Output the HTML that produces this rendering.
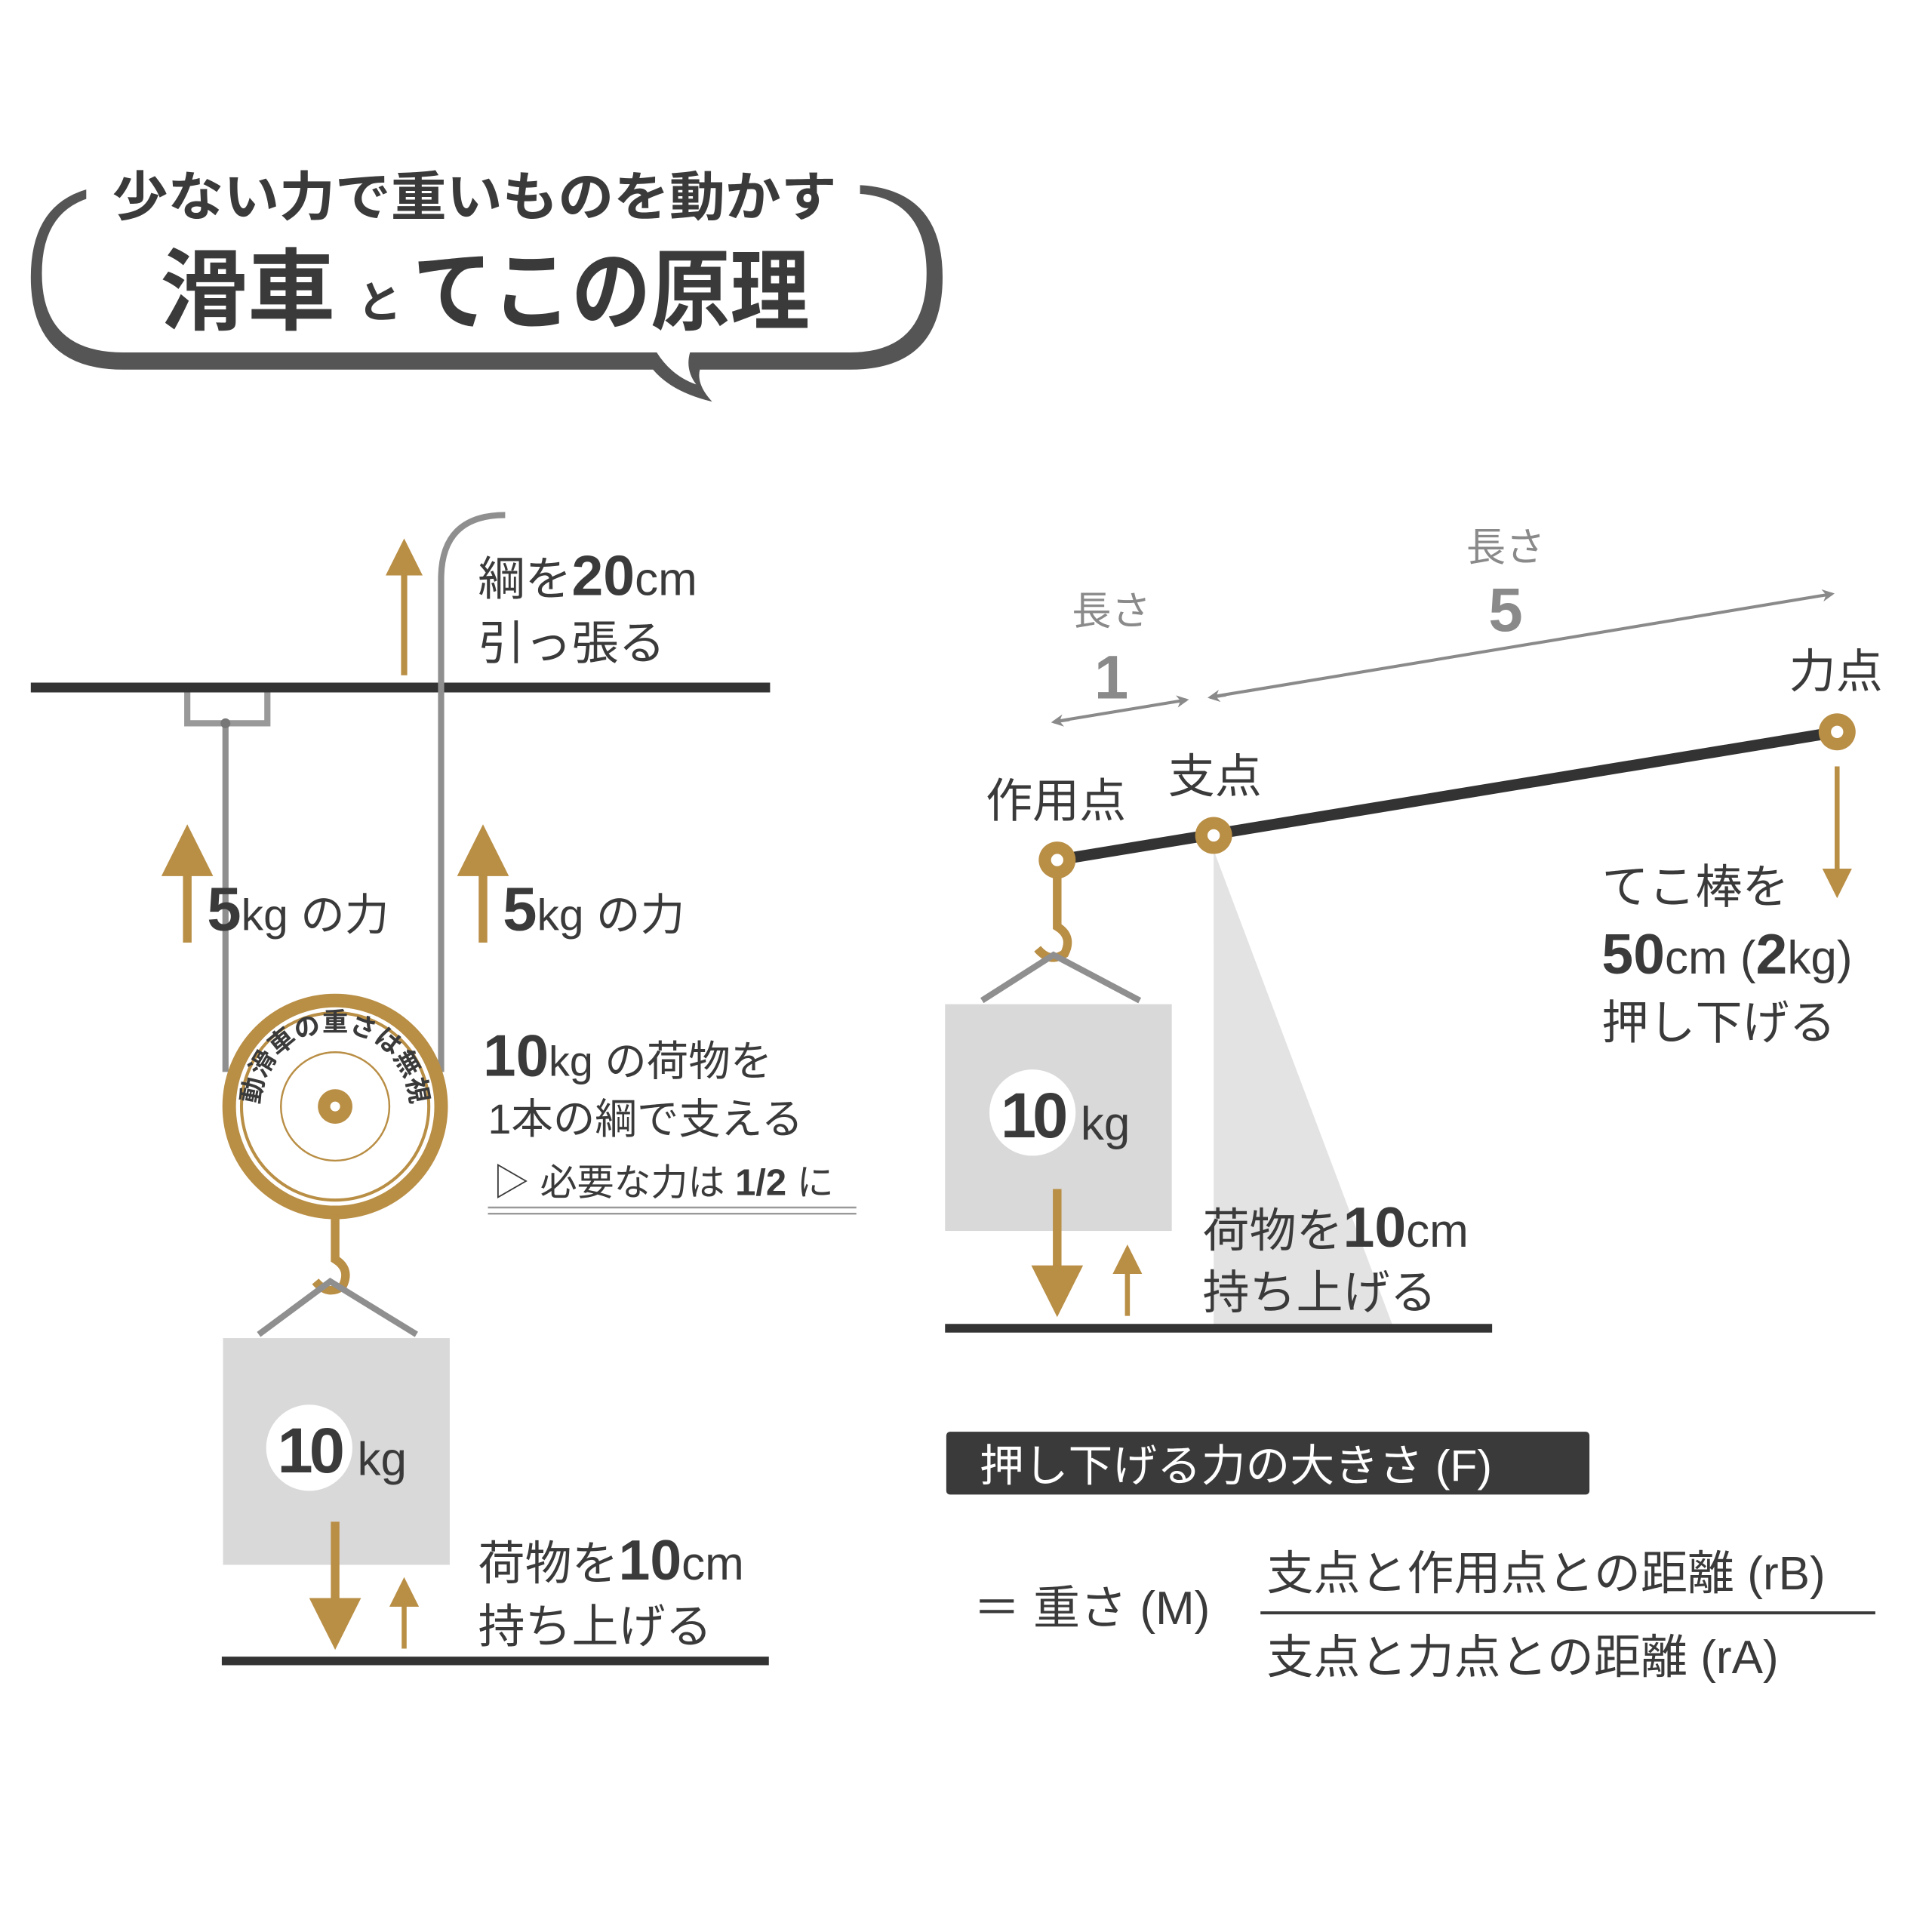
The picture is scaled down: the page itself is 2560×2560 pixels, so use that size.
<!DOCTYPE html>
<html><head><meta charset="utf-8"><style>
html,body{margin:0;padding:0;background:#fff}
svg{display:block}
text{font-family:"Liberation Sans","Noto Sans CJK JP",sans-serif;fill:#3a3a3a}
.b{font-weight:bold}
</style></head><body>
<svg width="2560" height="2560" viewBox="0 0 1568 1568" xmlns="http://www.w3.org/2000/svg">
<defs>
<marker id="ag" markerWidth="6" markerHeight="6" refX="3" refY="3" orient="auto" markerUnits="strokeWidth"><path d="M0,0 L6,3 L0,6 Z" fill="#b98e45"/></marker>
<marker id="ay" markerWidth="10" markerHeight="10" refX="8" refY="5" orient="auto" markerUnits="userSpaceOnUse"><path d="M0,0 L10,5 L0,10 L3,5 Z" fill="#8a8a8a"/></marker>
<path id="arc" d="M216,922 A61,61 0 1 1 328,922"/>
</defs>

<!-- speech bubble -->
<path d="M100,150 Q25,150 25,225 Q25,300 100,300 L530,300 Q545,318 578,326 Q565,312 568,300 L690,300 Q765,300 765,225 Q765,150 690,150 Z" fill="#555"/>
<path d="M100,157 Q34,157 34,222 Q34,286 100,286 L533,286 Q545,305 565,312 Q556,300 560,286 L690,286 Q752,286 752,222 Q752,157 690,157 Z" fill="#fff"/>
<rect x="70" y="125" width="628" height="45" fill="#fff"/>
<text x="385" y="175" class="b" font-size="43" text-anchor="middle" textLength="588" lengthAdjust="spacingAndGlyphs">少ない力で重いものを動かす</text>
<text x="130" y="262" class="b" font-size="72" textLength="142" lengthAdjust="spacingAndGlyphs">滑車</text>
<text x="290" y="258" class="b" font-size="36">と</text>
<text x="335" y="262" class="b" font-size="72" textLength="322" lengthAdjust="spacingAndGlyphs">てこの原理</text>

<!-- pulley -->
<line x1="25" y1="558" x2="625" y2="558" stroke="#333" stroke-width="8"/>
<path d="M152,562 L152,587 L217,587 L217,562" fill="none" stroke="#999" stroke-width="5"/>
<line x1="183" y1="587" x2="183" y2="870" stroke="#8f8f8f" stroke-width="5"/>
<circle cx="183" cy="587" r="4" fill="#777"/>
<path d="M410,418 Q358,418 358,470 L358,870" fill="none" stroke="#8f8f8f" stroke-width="5"/>
<line x1="328" y1="548" x2="328" y2="452" stroke="#b98e45" stroke-width="5" marker-end="url(#ag)"/>
<text x="388" y="483" font-size="38">綱を<tspan class="b" font-size="46">20</tspan>cm</text>
<text x="388" y="535" font-size="38">引っ張る</text>
<line x1="152" y1="765" x2="152" y2="690" stroke="#b98e45" stroke-width="7" marker-end="url(#ag)"/>
<line x1="392" y1="765" x2="392" y2="690" stroke="#b98e45" stroke-width="7" marker-end="url(#ag)"/>
<text x="168" y="755" font-size="36"><tspan class="b" font-size="50">5</tspan>kg の力</text>
<text x="408" y="755" font-size="36"><tspan class="b" font-size="50">5</tspan>kg の力</text>

<circle cx="272" cy="898" r="86" fill="#fff" stroke="#b98e45" stroke-width="11"/>
<circle cx="272" cy="898" r="76" fill="none" stroke="#b98e45" stroke-width="2.5"/>
<circle cx="272" cy="898" r="44" fill="none" stroke="#b98e45" stroke-width="1.5"/>
<circle cx="272" cy="898" r="14" fill="#b98e45"/>
<circle cx="272" cy="898" r="4" fill="#fff"/>
<text font-size="21" class="b"><textPath href="#arc" startOffset="50%" text-anchor="middle">動滑車の重さは無視</textPath></text>
<path d="M272,986 L272,1022 Q285,1030 278,1044 Q266,1052 256,1040" fill="none" stroke="#b98e45" stroke-width="7"/>
<path d="M210,1083 L268,1040 L338,1083" fill="none" stroke="#8f8f8f" stroke-width="5"/>
<rect x="181" y="1086" width="184" height="184" fill="#d9d9d9"/>
<circle cx="251" cy="1175" r="35" fill="#fff"/>
<text x="251" y="1195" class="b" font-size="52" text-anchor="middle" letter-spacing="-3">10</text>
<text x="290" y="1197" font-size="38">kg</text>
<line x1="272" y1="1235" x2="272" y2="1318" stroke="#b98e45" stroke-width="7" marker-end="url(#ag)"/>
<line x1="328" y1="1338" x2="328" y2="1292" stroke="#b98e45" stroke-width="4" marker-end="url(#ag)"/>
<line x1="180" y1="1348" x2="624" y2="1348" stroke="#333" stroke-width="7"/>
<text x="388" y="1282" font-size="38">荷物を<tspan class="b" font-size="46">10</tspan>cm</text>
<text x="388" y="1333" font-size="38">持ち上げる</text>
<text x="392" y="873" font-size="34"><tspan class="b" font-size="48">10</tspan>kg の荷物を</text>
<text x="396" y="920" font-size="34">1本の綱で支える</text>
<text x="400" y="970" font-size="30">▷ 必要な力は <tspan class="b">1/2</tspan> に</text>
<line x1="396" y1="980" x2="695" y2="980" stroke="#999" stroke-width="1.5"/>
<line x1="396" y1="985" x2="695" y2="985" stroke="#999" stroke-width="1.5"/>

<!-- lever -->
<polygon points="985,690 985,1075 1130,1075" fill="#e3e3e3"/>
<line x1="858" y1="698" x2="1491" y2="594" stroke="#333" stroke-width="9"/>
<g fill="#b98e45"><circle cx="858" cy="698" r="15"/><circle cx="985" cy="678" r="15"/><circle cx="1491" cy="594" r="15"/></g>
<g fill="#fff"><circle cx="858" cy="698" r="5"/><circle cx="985" cy="678" r="5"/><circle cx="1491" cy="594" r="5"/></g>
<path d="M858,712 L858,752 Q871,760 864,774 Q852,782 842,770" fill="none" stroke="#b98e45" stroke-width="7"/>
<path d="M797,812 L855,775 L925,812" fill="none" stroke="#8f8f8f" stroke-width="5"/>
<rect x="767" y="815" width="184" height="184" fill="#d9d9d9"/>
<circle cx="838" cy="903" r="35" fill="#fff"/>
<text x="838" y="923" class="b" font-size="52" text-anchor="middle" letter-spacing="-3">10</text>
<text x="877" y="925" font-size="38">kg</text>
<line x1="858" y1="965" x2="858" y2="1048" stroke="#b98e45" stroke-width="7" marker-end="url(#ag)"/>
<line x1="915" y1="1068" x2="915" y2="1022" stroke="#b98e45" stroke-width="4" marker-end="url(#ag)"/>
<line x1="767" y1="1078" x2="1211" y2="1078" stroke="#333" stroke-width="7"/>
<text x="976" y="1012" font-size="38">荷物を<tspan class="b" font-size="46">10</tspan>cm</text>
<text x="976" y="1062" font-size="38">持ち上げる</text>
<text x="800" y="663" font-size="38">作用点</text>
<text x="948" y="643" font-size="38">支点</text>
<text x="1452" y="558" font-size="38">力点</text>
<line x1="1491" y1="622" x2="1491" y2="717" stroke="#b98e45" stroke-width="4" marker-end="url(#ag)"/>
<text x="1300" y="733" font-size="38">てこ棒を</text>
<text x="1300" y="790" font-size="38"><tspan class="b" font-size="46">50</tspan>cm (<tspan class="b" font-size="46">2</tspan>kg)</text>
<text x="1300" y="843" font-size="38">押し下げる</text>
<line x1="868" y1="584" x2="855" y2="586" stroke="#8a8a8a" stroke-width="2.5" marker-end="url(#ay)"/>
<line x1="860" y1="585" x2="963" y2="568" stroke="#8a8a8a" stroke-width="2.5" marker-end="url(#ay)"/>
<line x1="995" y1="564" x2="982" y2="566" stroke="#8a8a8a" stroke-width="2.5" marker-end="url(#ay)"/>
<line x1="987" y1="565" x2="1487" y2="482" stroke="#8a8a8a" stroke-width="2.5" marker-end="url(#ay)"/>
<text x="902" y="507" font-size="32" text-anchor="middle" style="fill:#8a8a8a">長さ</text>
<text x="902" y="567" font-size="50" class="b" text-anchor="middle" style="fill:#8a8a8a">1</text>
<text x="1222" y="455" font-size="32" text-anchor="middle" style="fill:#8a8a8a">長さ</text>
<text x="1222" y="512" font-size="50" class="b" text-anchor="middle" style="fill:#8a8a8a">5</text>

<!-- formula -->
<rect x="768" y="1162" width="522" height="51" rx="3" fill="#3a3a3a"/>
<text x="795" y="1202" font-size="36" style="fill:#fff">押し下げる力の大きさ (F)</text>
<text x="790" y="1318" font-size="38">＝ 重さ (M)</text>
<line x1="1023" y1="1309" x2="1522" y2="1309" stroke="#3a3a3a" stroke-width="2.5"/>
<text x="1028" y="1290" font-size="38">支点と作用点との距離 (rB)</text>
<text x="1028" y="1358" font-size="38">支点と力点との距離 (rA)</text>
</svg>
</body></html>
